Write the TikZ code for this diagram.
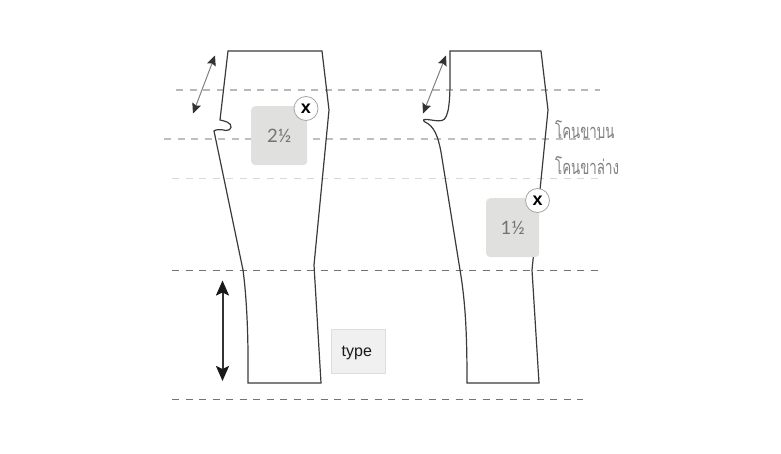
\documentclass[tikz,border=0pt]{standalone}
\usepackage{fontspec}
\setmainfont{Liberation Sans}
\newfontfamily\thaifont[Script=Thai,FakeStretch=0.665]{Loma}
\newfontfamily\fracfont{Lato}
\usetikzlibrary{arrows.meta}
\definecolor{outline}{HTML}{3A3A3A}
\definecolor{patchgray}{HTML}{E0E0DE}
\tikzset{
  x=1pt,y=-1pt,
  guide/.style={dash pattern=on 7pt off 6.5pt},
  garment/.style={draw=outline,line width=1.2pt,line join=miter},
  patch/.style={fill=patchgray,rounded corners=4pt,inner sep=0pt,anchor=north west,font=\fracfont\fontsize{18.5}{18.5}\selectfont,text=black!55},
  badge/.style={circle,draw=black!35,fill=white,line width=.8pt,minimum size=24pt,inner sep=0pt,font=\bfseries\fontsize{18}{18}\selectfont},
  thailabel/.style={anchor=west,inner sep=0pt,text=black!50,font=\thaifont\fontsize{20}{20}\selectfont},
  smallarrow/.style={draw=black!50,line width=1pt,{Stealth[length=10pt,width=9pt,inset=1.5pt,black!80]}-{Stealth[length=10pt,width=9pt,inset=1.5pt,black!80]}},
  bigarrow/.style={draw=black!80,line width=2pt,{Stealth[length=15pt,width=13pt,inset=3pt,black!90]}-{Stealth[length=15pt,width=13pt,inset=3pt,black!90]}}
}
\begin{document}
\begin{tikzpicture}
\useasboundingbox (0,0) rectangle (781,454);
% guides
\coordinate (g1a) at (176,90.3);  \coordinate (g1b) at (600,90.3);
\coordinate (g2a) at (164,138.7); \coordinate (g2b) at (600,138.7);
\coordinate (g3a) at (172,178.5); \coordinate (g3b) at (600,178.5);
\coordinate (g4a) at (172,270.5); \coordinate (g4b) at (598,270.5);
\coordinate (g5a) at (172,399.5); \coordinate (g5b) at (583,399.5);
\draw[guide,draw=black!28,line width=2.1pt] (g1a) -- (g1b);
\draw[guide,draw=black!25,line width=2.1pt] (g2a) -- (g2b);
\draw[guide,draw=black!15,line width=1.6pt] (g3a) -- (g3b);
\draw[guide,draw=black!55,line width=1.3pt] (g4a) -- (g4b);
\draw[guide,draw=black!55,line width=1.3pt] (g5a) -- (g5b);
% left garment
\draw[garment] (228,51) -- (322,51) -- (329,110) -- (314,265) -- (321,383) -- (248,383)
  .. controls (248.5,340) and (247,300) .. (243,270) -- (214,131)
  .. controls (216,129) and (222,129.5) .. (226,130.5)
  .. controls (232,131) and (233,124) .. (227,122)
  .. controls (225,121) and (222,120.5) .. (220,120) -- cycle;
% right garment
\draw[garment] (450,51) -- (541,51) -- (548,110) -- (532,270) -- (539,383) -- (467,383)
  .. controls (467,340) and (466,305) .. (460,270)
  -- (441,152)
  .. controls (438,136) and (434,126) .. (425,122)
  .. controls (422,120) and (424,119) .. (427,119.5)
  .. controls (433,120) and (437,121.5) .. (442,120.5)
  .. controls (449,119) and (450,100) .. (450,80) -- cycle;
% arrows
\coordinate (a1) at (215,55.5); \coordinate (a2) at (193,113.5);
\coordinate (b1) at (446,55.5); \coordinate (b2) at (423,113.5);
\coordinate (c1) at (222.5,280.5); \coordinate (c2) at (222.5,381);
\draw[smallarrow] (a1) -- (a2);
\draw[smallarrow] (b1) -- (b2);
\draw[bigarrow] (c1) -- (c2);
% patches
\node[patch,minimum width=56pt,minimum height=59pt] (p1) at (251,106) {2½};
\node[badge] (x1) at (306,108.5) {x};
\node[patch,minimum width=53pt,minimum height=59pt] (p2) at (486,198) {1½};
\node[badge] (x2) at (537.5,200.5) {x};
% labels
\node[thailabel] (t1) at (555,129.5) {โคนขาบน};
\node[thailabel] (t2) at (555,165.5) {โคนขาล่าง};
\node[draw=black!13,fill=black!6,line width=.7pt,minimum width=54pt,minimum height=44pt,inner sep=0pt,anchor=north west,font=\fontsize{16}{16}\selectfont,text=black!90] (ty) at (331,329) {\raisebox{-5pt}[0pt][0pt]{\hspace*{-3pt}type}};
\end{tikzpicture}
\end{document}
